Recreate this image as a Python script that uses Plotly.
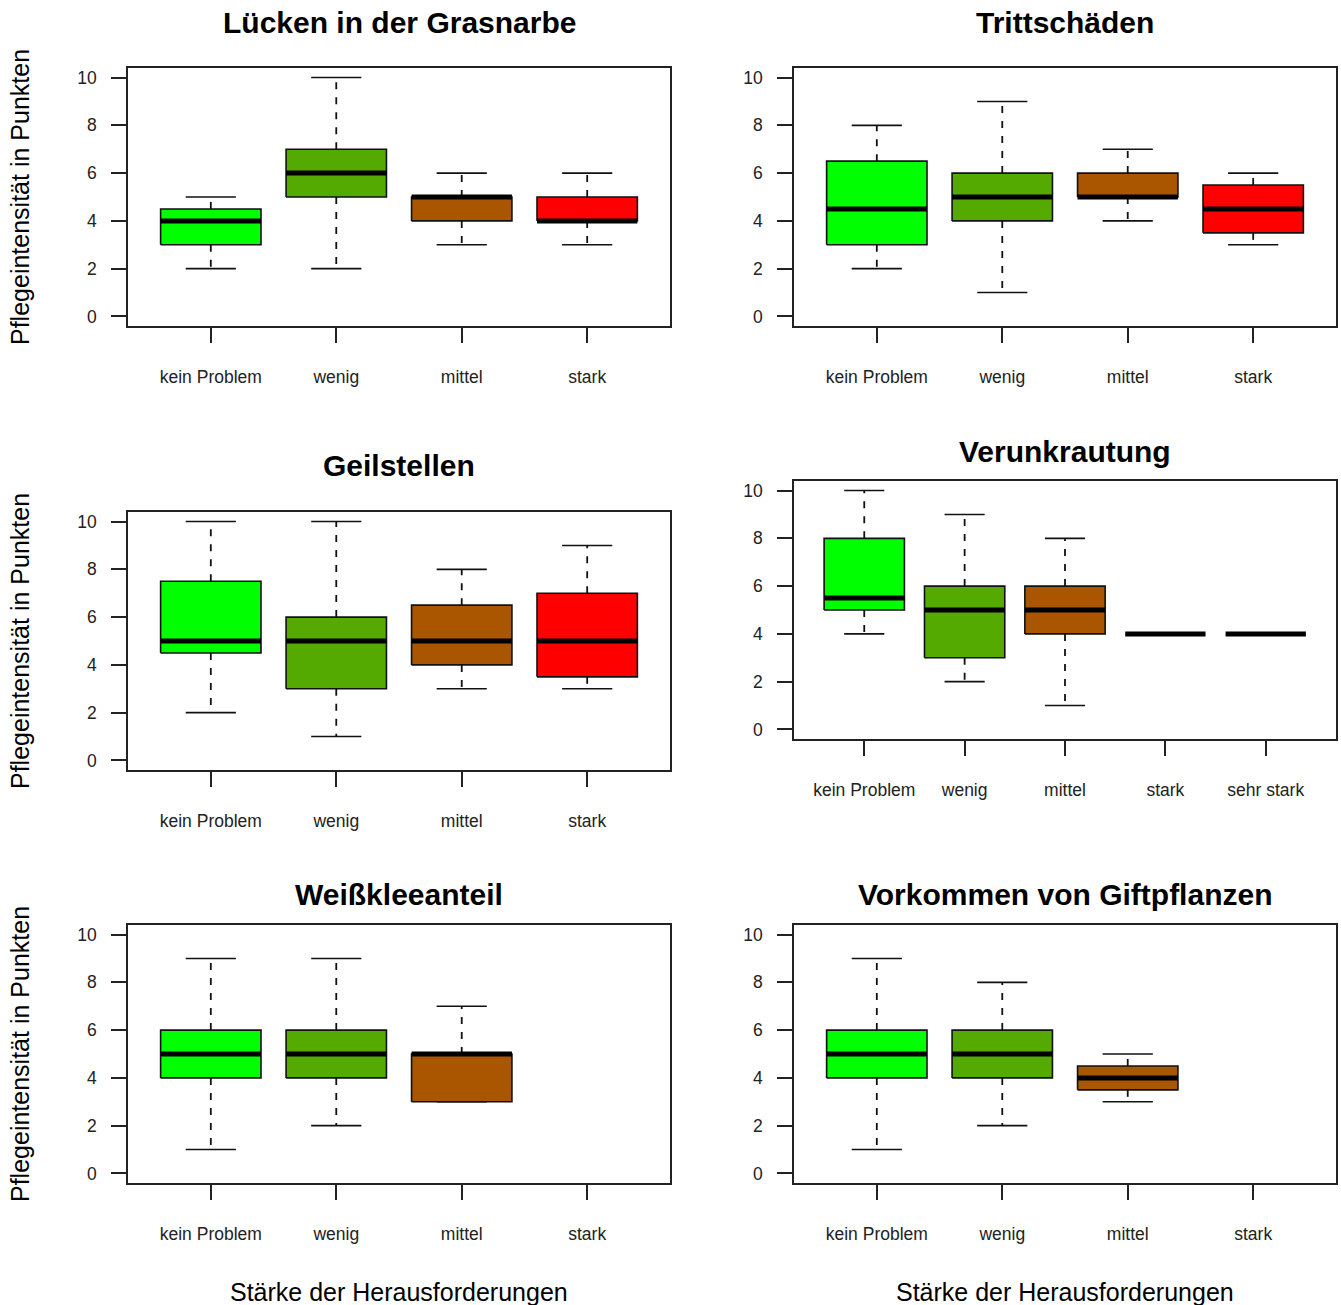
import plotly.graph_objects as go

# Figure size in pixels
W, H = 1341, 1305

# Category labels on the x axes
cats4 = ["kein Problem", "wenig", "mittel", "stark"]
cats5 = ["kein Problem", "wenig", "mittel", "stark", "sehr stark"]

# Box fill colours per category
fills = ["#00FF00", "#55AA00", "#AA5500", "#FF0000", "#FFFFFF"]

# Five-number summaries per category: [lower whisker, Q1, median, Q3, upper whisker]
luecken = [[2, 3, 4, 4.5, 5], [2, 5, 6, 7, 10], [3, 4, 5, 5, 6], [3, 4, 4, 5, 6]]
tritt = [[2, 3, 4.5, 6.5, 8], [1, 4, 5, 6, 9], [4, 5, 5, 6, 7], [3, 3.5, 4.5, 5.5, 6]]
geil = [[2, 4.5, 5, 7.5, 10], [1, 3, 5, 6, 10], [3, 4, 5, 6.5, 8], [3, 3.5, 5, 7, 9]]
unkraut = [[4, 5, 5.5, 8, 10], [2, 3, 5, 6, 9], [1, 4, 5, 6, 8], [4, 4, 4, 4, 4], [4, 4, 4, 4, 4]]
weissklee = [[1, 4, 5, 6, 9], [2, 4, 5, 6, 9], [3, 3, 5, 5, 7], None]
gift = [[1, 4, 5, 6, 9], [2, 4, 5, 6, 8], [3, 3.5, 4, 4.5, 5], None]

y_ticks = [0, 2, 4, 6, 8, 10]

titles = ["Lücken in der Grasnarbe", "Trittschäden", "Geilstellen",
          "Verunkrautung", "Weißkleeanteil", "Vorkommen von Giftpflanzen"]
y_title = "Pflegeintensität in Punkten"
x_title = "Stärke der Herausforderungen"

# Panel frames in pixels: (left, top, right, bottom), title centre y
panels = [
    (luecken, cats4, (128, 68, 670, 326), 22),
    (tritt, cats4, (794, 68, 1336, 326), 22),
    (geil, cats4, (128, 512, 670, 770), 466),
    (unkraut, cats5, (794, 481, 1336, 739), 451),
    (weissklee, cats4, (128, 925, 670, 1183), 894),
    (gift, cats4, (794, 925, 1336, 1183), 894),
]

FONT = "Liberation Sans, Arial, Helvetica, sans-serif"
HALF = 0.4      # half box width (boxwex 0.8)
CAP = 0.2       # half whisker-cap width


def px(x):
    return x / W


def py(y):
    return 1 - y / H


fig = go.Figure()
layout = dict(width=W, height=H, margin=dict(l=0, r=0, t=0, b=0),
              paper_bgcolor="white", plot_bgcolor="white", showlegend=False,
              annotations=[])

for i, (stats, cats, (l, t, r, b), title_y) in enumerate(panels):
    n = len(cats)
    xa = "x" if i == 0 else f"x{i + 1}"
    ya = "y" if i == 0 else f"y{i + 1}"
    xkey = "xaxis" if i == 0 else f"xaxis{i + 1}"
    ykey = "yaxis" if i == 0 else f"yaxis{i + 1}"
    pad = 0.04 * n
    layout[xkey] = dict(
        domain=[px(l), px(r)], range=[0.5 - pad, n + 0.5 + pad], anchor=ya,
        tickvals=list(range(1, n + 1)), ticktext=cats, ticks="outside",
        ticklen=15, tickwidth=1.5, tickcolor="#222", showline=True, mirror=True,
        linecolor="#222", linewidth=1.5, showgrid=False, zeroline=False,
        tickfont=dict(family=FONT, size=17.5, color="#222"), ticklabelstandoff=19,
        fixedrange=True)
    layout[ykey] = dict(
        domain=[py(b), py(t)], range=[-0.4, 10.4], anchor=xa,
        tickvals=y_ticks, ticks="outside", ticklen=15, tickwidth=1.5,
        tickcolor="#222", showline=True, mirror=True, linecolor="#222",
        linewidth=1.5, showgrid=False, zeroline=False,
        tickfont=dict(family=FONT, size=17.5, color="#222"), ticklabelstandoff=11,
        fixedrange=True)

    for k, s in enumerate(stats):
        if s is None:
            continue
        lo, q1, med, q3, hi = s
        c = k + 1
        # dashed whiskers
        for a, z in ((q3, hi), (q1, lo)):
            if z != a:
                fig.add_trace(go.Scatter(
                    x=[c, c], y=[a, z], mode="lines", xaxis=xa, yaxis=ya,
                    line=dict(color="#111", width=1.8, dash="7px,8px"),
                    hoverinfo="skip"))
        # whisker caps
        for z in (lo, hi):
            fig.add_trace(go.Scatter(
                x=[c - CAP, c + CAP], y=[z, z], mode="lines", xaxis=xa, yaxis=ya,
                line=dict(color="#111", width=1.6), hoverinfo="skip"))
        # box
        if q3 > q1:
            fig.add_trace(go.Scatter(
                x=[c - HALF, c + HALF, c + HALF, c - HALF, c - HALF],
                y=[q1, q1, q3, q3, q1], mode="lines", fill="toself",
                fillcolor=fills[k], xaxis=xa, yaxis=ya,
                line=dict(color="#111", width=1.6), hoverinfo="skip"))
        # median
        fig.add_trace(go.Scatter(
            x=[c - HALF, c + HALF], y=[med, med], mode="lines", xaxis=xa,
            yaxis=ya, line=dict(color="black", width=5), hoverinfo="skip"))

    # panel title
    layout["annotations"].append(dict(
        text=f"<b>{titles[i]}</b>", x=px((l + r) / 2), y=py(title_y),
        xref="paper", yref="paper", xanchor="center", yanchor="middle",
        showarrow=False, font=dict(family=FONT, size=30, color="black")))

    # y-axis title on the left column
    if l < W / 2:
        layout["annotations"].append(dict(
            text=y_title, x=px(20), y=py((t + b) / 2), xref="paper",
            yref="paper", xanchor="center", yanchor="middle", textangle=-90,
            showarrow=False, font=dict(family=FONT, size=25, color="black")))

    # x-axis title on the bottom row
    if i >= 4:
        layout["annotations"].append(dict(
            text=x_title, x=px((l + r) / 2), y=py(1292), xref="paper",
            yref="paper", xanchor="center", yanchor="middle", showarrow=False,
            font=dict(family=FONT, size=25, color="black")))

fig.update_layout(**layout)
fig.write_html("out.html")
